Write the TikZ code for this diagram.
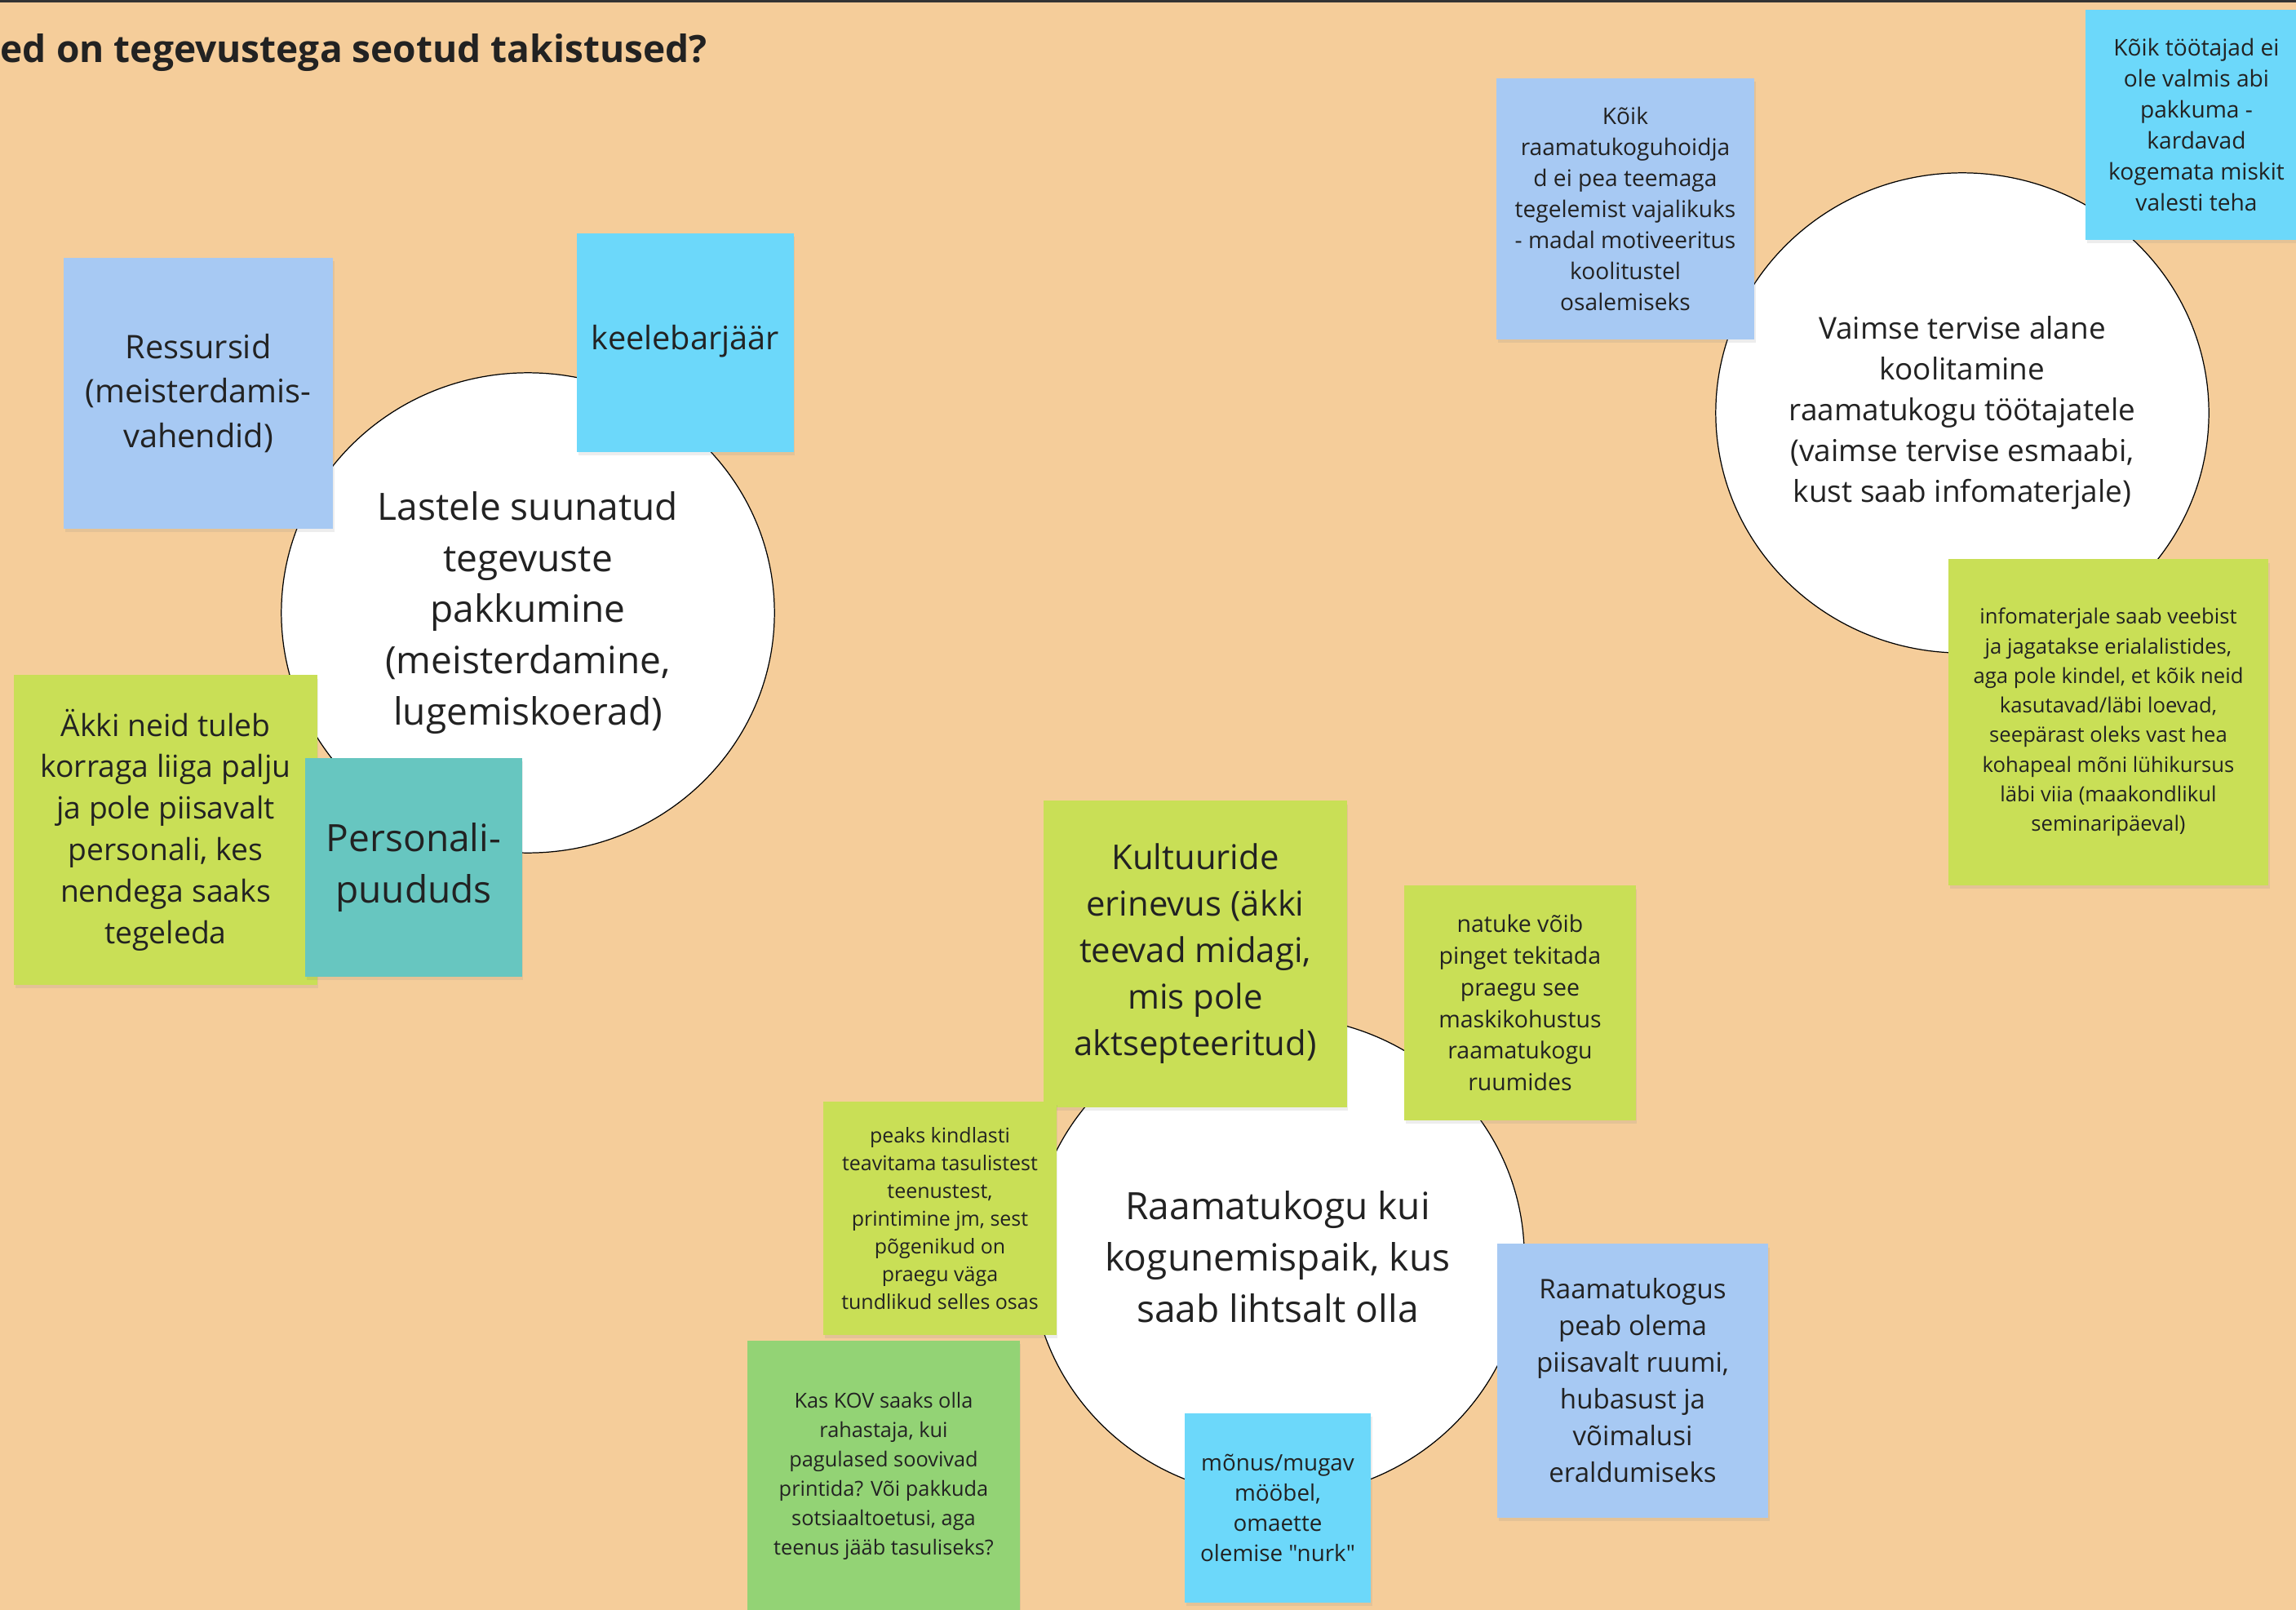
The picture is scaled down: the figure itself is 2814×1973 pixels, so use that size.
\documentclass[tikz,border=0pt]{standalone}
\usepackage{fontspec}
\setmainfont{Open Sans}[Ligatures=TeXOff]
\usetikzlibrary{shapes.geometric,shadows}

\definecolor{board}{RGB}{245,205,154}
\definecolor{ink}{RGB}{34,34,34}
\definecolor{paleblue}{RGB}{167,201,243}
\definecolor{skyblue}{RGB}{108,216,250}
\definecolor{lime}{RGB}{201,223,86}
\definecolor{teal}{RGB}{103,198,192}
\definecolor{leaf}{RGB}{147,211,117}

\begin{document}
\begin{tikzpicture}[x=0.01cm,y=-0.01cm,
    note/.style 2 args={rectangle,inner sep=0pt,minimum width=#1,minimum height=#2,
        align=center,text=ink,drop shadow={opacity=0.14,shadow xshift=0.5pt,shadow yshift=-1.2pt}},
    topic/.style={ellipse,draw=black,line width=0.35pt,fill=white,inner sep=0pt,
        minimum width=6.04cm,minimum height=5.88cm,align=center,text=ink,
        font=\fontsize{13.1}{17.9}\selectfont}]

    % board
    \fill[board] (0,0) rectangle (2814,1973);
    \useasboundingbox (0,0) rectangle (2814,1973);
    \fill[black!80] (0,0) rectangle (2814,3);
    \node[anchor=base west,inner sep=0pt,text=ink,font=\fontsize{13.1}{16}\selectfont\bfseries] (title) at (0,77) {ed on tegevustega seotud takistused?};

    % topics
    \node[topic] (lastele) at (647,751) {Lastele suunatud\\tegevuste\\pakkumine\\(meisterdamine,\\lugemiskoerad)};
    \node[topic,font=\fontsize{10.5}{14.2}\selectfont] (vaimne) at (2405,506) {Vaimse tervise alane\\koolitamine\\raamatukogu töötajatele\\(vaimse tervise esmaabi,\\kust saab infomaterjale)};
    \node[topic] (kogu) at (1566,1540) {Raamatukogu kui\\kogunemispaik, kus\\saab lihtsalt olla};

    % notes round lastele
    \node[note={3.30cm}{3.32cm},fill=paleblue,font=\fontsize{11.3}{15.4}\selectfont] (ressurss) at (243,482) {Ressursid\\(meisterdamis-\\vahendid)};
    \node[note={2.65cm}{2.68cm},fill=skyblue] (barjaar) at (840,420) {};
    \node[inner sep=0pt,text=ink,font=\fontsize{11.3}{15.4}\selectfont] (barjtxt) at (840,418) {keelebarjäär};
    \node[note={3.71cm}{3.79cm},fill=lime,font=\fontsize{10.6}{14.45}\selectfont] (akki) at (203,1017) {Äkki neid tuleb\\korraga liiga palju\\ja pole piisavalt\\personali, kes\\nendega saaks\\tegeleda};
    \node[note={2.65cm}{2.68cm},fill=teal,font=\fontsize{13.1}{17.9}\selectfont] (personal) at (507,1063) {Personali-\\puududs};

    % notes round vaimne
    \node[note={3.16cm}{3.20cm},fill=paleblue,font=\fontsize{8}{10.8}\selectfont] (hoidjad) at (1992,256) {Kõik\\raamatukoguhoidja\\d ei pea teemaga\\tegelemist vajalikuks\\- madal motiveeritus\\koolitustel\\osalemiseks};
    \node[note={2.71cm}{2.82cm},fill=skyblue,font=\fontsize{8}{10.8}\selectfont] (tootajad) at (2692,153) {Kõik töötajad ei\\ole valmis abi\\pakkuma -\\kardavad\\kogemata miskit\\valesti teha};
    \node[note={3.92cm}{3.99cm},fill=lime,font=\fontsize{7.3}{10.3}\selectfont] (infomat) at (2584,885) {infomaterjale saab veebist\\ja jagatakse erialalistides,\\aga pole kindel, et kõik neid\\kasutavad/läbi loevad,\\seepärast oleks vast hea\\kohapeal mõni lühikursus\\läbi viia (maakondlikul\\seminaripäeval)};

    % notes round kogu
    \node[note={3.71cm}{3.75cm},fill=lime,font=\fontsize{11.9}{16.2}\selectfont] (kultuur) at (1465,1169) {Kultuuride\\erinevus (äkki\\teevad midagi,\\mis pole\\aktsepteeritud)};
    \node[note={2.83cm}{2.87cm},fill=lime,font=\fontsize{8.1}{11}\selectfont] (mask) at (1863,1229) {natuke võib\\pinget tekitada\\praegu see\\maskikohustus\\raamatukogu\\ruumides};
    \node[note={2.85cm}{2.86cm},fill=lime,font=\fontsize{7.1}{9.7}\selectfont] (tasu) at (1152,1493) {peaks kindlasti\\teavitama tasulistest\\teenustest,\\printimine jm, sest\\põgenikud on\\praegu väga\\tundlikud selles osas};
    \node[note={3.33cm}{3.32cm},fill=leaf,font=\fontsize{7.2}{10.2}\selectfont] (kov) at (1083,1809) {Kas KOV saaks olla\\rahastaja, kui\\pagulased soovivad\\printida? Või pakkuda\\sotsiaaltoetusi, aga\\teenus jääb tasuliseks?};
    \node[note={2.28cm}{2.32cm},fill=skyblue,font=\fontsize{7.9}{10.6}\selectfont] (moobel) at (1566,1848) {mõnus/mugav\\mööbel,\\omaette\\olemise "nurk"};
    \node[note={3.32cm}{3.35cm},fill=paleblue,font=\fontsize{9.4}{12.8}\selectfont] (ruum) at (2001,1692) {Raamatukogus\\peab olema\\piisavalt ruumi,\\hubasust ja\\võimalusi\\eraldumiseks};

\end{tikzpicture}
\end{document}
